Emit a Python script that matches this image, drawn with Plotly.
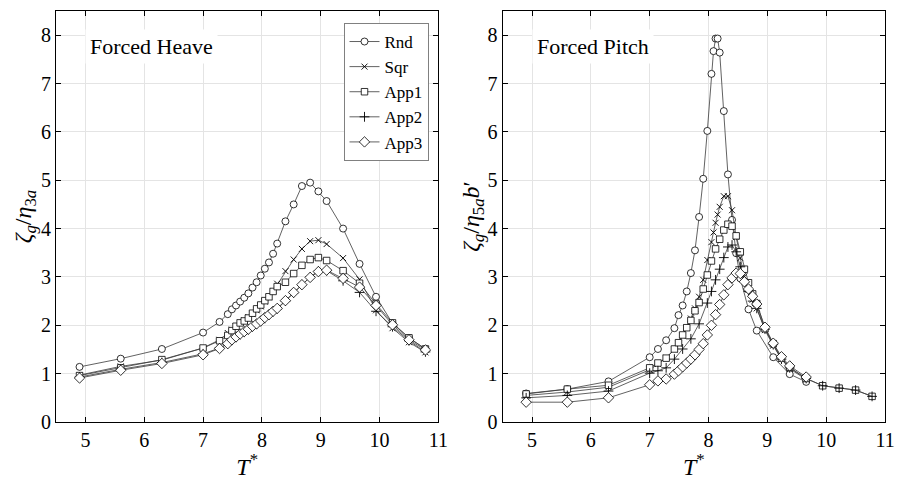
import plotly.graph_objects as go

# ---------------- data: Forced Heave ----------------
heave_T = [4.90, 5.60, 6.30, 7.00, 7.28, 7.42, 7.49, 7.56, 7.63, 7.70, 7.77, 7.84, 7.91, 7.98, 8.05,
           8.12, 8.19, 8.26, 8.40, 8.54, 8.68, 8.82, 8.96, 9.10, 9.38, 9.66, 9.94, 10.22, 10.50, 10.78]
heave_rnd = [1.14, 1.31, 1.51, 1.85, 2.07, 2.23, 2.33, 2.41, 2.49, 2.57, 2.66, 2.78, 2.89, 3.03, 3.17,
             3.30, 3.48, 3.69, 4.15, 4.50, 4.88, 4.95, 4.77, 4.57, 4.00, 3.27, 2.59, 2.04, 1.74, 1.51]
heave_sqr = [0.97, 1.15, 1.28, 1.53, 1.70, 1.84, 1.91, 1.98, 2.05, 2.10, 2.17, 2.23, 2.31, 2.39, 2.49,
             2.58, 2.71, 2.86, 3.12, 3.36, 3.58, 3.74, 3.76, 3.68, 3.39, 2.95, 2.31, 1.94, 1.65, 1.44]
heave_app1 = [0.96, 1.12, 1.29, 1.53, 1.68, 1.79, 1.89, 1.98, 2.05, 2.09, 2.15, 2.25, 2.34, 2.42, 2.51,
              2.59, 2.70, 2.80, 2.89, 3.07, 3.24, 3.36, 3.40, 3.34, 3.13, 2.87, 2.44, 2.05, 1.74, 1.51]
heave_app2 = [0.93, 1.09, 1.23, 1.41, 1.53, 1.62, 1.69, 1.75, 1.81, 1.86, 1.91, 1.97, 2.02, 2.08, 2.14,
              2.21, 2.28, 2.34, 2.50, 2.67, 2.84, 3.00, 3.12, 3.13, 2.92, 2.68, 2.29, 1.97, 1.68, 1.45]
heave_app3 = [0.91, 1.07, 1.21, 1.39, 1.52, 1.62, 1.70, 1.76, 1.82, 1.87, 1.92, 1.98, 2.03, 2.09, 2.16,
              2.22, 2.29, 2.35, 2.51, 2.68, 2.84, 2.99, 3.11, 3.14, 2.97, 2.79, 2.41, 2.01, 1.70, 1.49]

# ---------------- data: Forced Pitch ----------------
pitch_rnd_T = [4.90, 5.60, 6.30, 7.00, 7.14, 7.28, 7.42, 7.49, 7.56, 7.63, 7.70, 7.77, 7.84, 7.91, 7.98,
               8.05, 8.085, 8.12, 8.155, 8.19, 8.26, 8.33, 8.40, 8.47, 8.54, 8.68, 8.82, 9.10, 9.38, 9.66]
pitch_rnd = [0.59, 0.68, 0.84, 1.34, 1.51, 1.69, 1.94, 2.21, 2.41, 2.70, 3.08, 3.55, 4.24, 5.03, 6.02,
             7.20, 7.67, 7.93, 7.93, 7.64, 6.43, 5.12, 4.18, 3.49, 2.97, 2.33, 1.89, 1.34, 0.99, 0.83]

pitch_sqr_T = [4.90, 5.60, 6.30, 7.00, 7.14, 7.28, 7.42, 7.49, 7.56, 7.63, 7.70, 7.77, 7.84, 7.91, 7.98,
               8.05, 8.085, 8.12, 8.155, 8.19, 8.26, 8.33, 8.40, 8.47, 8.54, 8.61, 8.68, 8.75, 8.82,
               8.96, 9.10, 9.24, 9.38, 9.66]
pitch_sqr = [0.55, 0.62, 0.72, 1.08, 1.20, 1.33, 1.50, 1.62, 1.78, 1.95, 2.14, 2.35, 2.59, 2.94, 3.35,
             3.72, 3.92, 4.12, 4.29, 4.45, 4.67, 4.67, 4.38, 3.83, 3.39, 3.01, 2.73, 2.53, 2.35,
             1.90, 1.58, 1.30, 1.10, 0.88]

pitch_app1_T = [4.90, 5.60, 6.30, 7.00, 7.14, 7.28, 7.42, 7.49, 7.56, 7.63, 7.70, 7.77, 7.84, 7.91, 7.98,
                8.05, 8.12, 8.19, 8.26, 8.33, 8.40, 8.47, 8.54, 8.61, 8.68, 8.75, 8.82, 8.96, 9.10,
                9.24, 9.38, 9.66, 9.94, 10.22, 10.50, 10.78]
pitch_app1 = [0.58, 0.68, 0.76, 1.12, 1.22, 1.32, 1.51, 1.64, 1.80, 1.95, 2.10, 2.30, 2.47, 2.75, 3.04,
              3.33, 3.58, 3.78, 3.97, 4.09, 4.05, 3.85, 3.52, 3.16, 2.88, 2.65, 2.45, 1.93, 1.62,
              1.32, 1.13, 0.90, 0.75, 0.70, 0.66, 0.53]

pitch_app2_T = [4.90, 5.60, 6.30, 7.00, 7.14, 7.28, 7.42, 7.56, 7.70, 7.84, 7.98, 8.05, 8.12, 8.19, 8.26,
                8.33, 8.40, 8.47, 8.54, 8.61, 8.68, 8.75, 8.82, 8.96, 9.10, 9.24, 9.38, 9.66, 9.94,
                10.22, 10.50, 10.78]
pitch_app2 = [0.50, 0.55, 0.64, 1.01, 1.06, 1.12, 1.30, 1.51, 1.72, 2.03, 2.46, 2.70, 2.94, 3.16, 3.40,
              3.62, 3.66, 3.52, 3.21, 2.90, 2.70, 2.50, 2.35, 1.92, 1.60, 1.30, 1.12, 0.90, 0.75,
              0.70, 0.66, 0.53]

pitch_app3_T = [4.90, 5.60, 6.30, 7.00, 7.14, 7.28, 7.42, 7.49, 7.56, 7.63, 7.70, 7.77, 7.84, 7.91, 7.98,
                8.05, 8.12, 8.19, 8.26, 8.33, 8.40, 8.47, 8.54, 8.61, 8.68, 8.75, 8.82, 8.96, 9.10,
                9.24, 9.38, 9.66]
pitch_app3 = [0.41, 0.41, 0.50, 0.77, 0.85, 0.89, 0.99, 1.06, 1.14, 1.22, 1.30, 1.39, 1.50, 1.62, 1.80,
              2.00, 2.22, 2.43, 2.63, 2.84, 2.98, 3.08, 3.07, 2.90, 2.75, 2.60, 2.44, 1.96, 1.63,
              1.35, 1.16, 0.93]

series_names = ["Rnd", "Sqr", "App1", "App2", "App3"]
x_ticks = [5, 6, 7, 8, 9, 10, 11]
y_ticks = [0, 1, 2, 3, 4, 5, 6, 7, 8]

FONT = "Liberation Serif"
LINE_COLOR = "#3a3a3a"

styles = {
    "Rnd": dict(symbol="circle", size=7, color="white", line=dict(color="black", width=0.8)),
    "Sqr": dict(symbol="x-thin", size=6, color="black", line=dict(color="black", width=0.9)),
    "App1": dict(symbol="square", size=6.5, color="white", line=dict(color="black", width=0.8)),
    "App2": dict(symbol="cross-thin", size=7, color="black", line=dict(color="black", width=0.9)),
    "App3": dict(symbol="diamond", size=8, color="white", line=dict(color="black", width=0.8)),
}

heave = {"Rnd": (heave_T, heave_rnd), "Sqr": (heave_T, heave_sqr), "App1": (heave_T, heave_app1),
         "App2": (heave_T, heave_app2), "App3": (heave_T, heave_app3)}
pitch = {"Rnd": (pitch_rnd_T, pitch_rnd), "Sqr": (pitch_sqr_T, pitch_sqr),
         "App1": (pitch_app1_T, pitch_app1), "App2": (pitch_app2_T, pitch_app2),
         "App3": (pitch_app3_T, pitch_app3)}

fig = go.Figure()
for name in series_names:
    xs, ys = heave[name]
    fig.add_trace(go.Scatter(x=xs, y=ys, mode="lines+markers", name=name,
                             line=dict(color=LINE_COLOR, width=0.8), marker=styles[name],
                             xaxis="x", yaxis="y", showlegend=True))
for name in series_names:
    xs, ys = pitch[name]
    fig.add_trace(go.Scatter(x=xs, y=ys, mode="lines+markers", name=name,
                             line=dict(color=LINE_COLOR, width=0.8), marker=styles[name],
                             xaxis="x2", yaxis="y2", showlegend=False))

L, R, T, B = 56, 10, 10, 58
W, H = 905, 480
pw = W - L - R
ph = H - T - B
d1 = (0, (443 - L) / pw)
d2 = ((508 - L) / pw, 1)

axis_common = dict(showline=True, linecolor="black", linewidth=1, mirror="ticks",
                   ticks="inside", ticklen=5, tickcolor="black", tickwidth=1,
                   showgrid=True, gridcolor="#e4e4e4", gridwidth=1, zeroline=False,
                   tickfont=dict(family=FONT, size=20, color="black"))

xt = dict(text="<i>T</i><sup>*</sup>", font=dict(family=FONT, size=24, color="black"), standoff=2)
fig.update_layout(
    width=W, height=H,
    margin=dict(l=L, r=R, t=T, b=B),
    paper_bgcolor="white", plot_bgcolor="white",
    font=dict(family=FONT, color="black"),
    xaxis=dict(domain=d1, range=[4.5, 11], tickvals=x_ticks, title=xt, anchor="y", **axis_common),
    yaxis=dict(domain=[0, 1], range=[0, 8.5], tickvals=y_ticks, anchor="x",
               title=dict(text="<i>ζ<sub>g</sub></i>/<i>η</i><sub>3<i>a</i></sub>",
                          font=dict(family=FONT, size=24, color="black"), standoff=2),
               **axis_common),
    xaxis2=dict(domain=d2, range=[4.5, 11], tickvals=x_ticks, title=xt, anchor="y2", **axis_common),
    yaxis2=dict(domain=[0, 1], range=[0, 8.5], tickvals=y_ticks, anchor="x2",
                title=dict(text="<i>ζ<sub>g</sub></i>/<i>η</i><sub>5<i>a</i></sub><i>b</i>′",
                           font=dict(family=FONT, size=24, color="black"), standoff=0),
                **axis_common),
    legend=dict(x=(433 - L) / pw, xanchor="right", y=(ph - 12) / ph,
                yanchor="top", bgcolor="white", bordercolor="#808080", borderwidth=1,
                font=dict(family=FONT, size=17, color="black"), itemwidth=30, tracegroupgap=0),
    annotations=[
        dict(text="Forced Heave", x=5.0, y=7.77, xref="x", yref="y", xanchor="left", yanchor="middle",
             showarrow=False, bgcolor="white", borderpad=4, font=dict(family=FONT, size=22, color="black")),
        dict(text="Forced Pitch", x=5.0, y=7.77, xref="x2", yref="y2", xanchor="left", yanchor="middle",
             showarrow=False, bgcolor="white", borderpad=4, font=dict(family=FONT, size=22, color="black")),
    ],
)

fig.write_html("out.html", config={"displayModeBar": False},
               post_script="document.body.style.margin='0';document.body.style.padding='0';")
